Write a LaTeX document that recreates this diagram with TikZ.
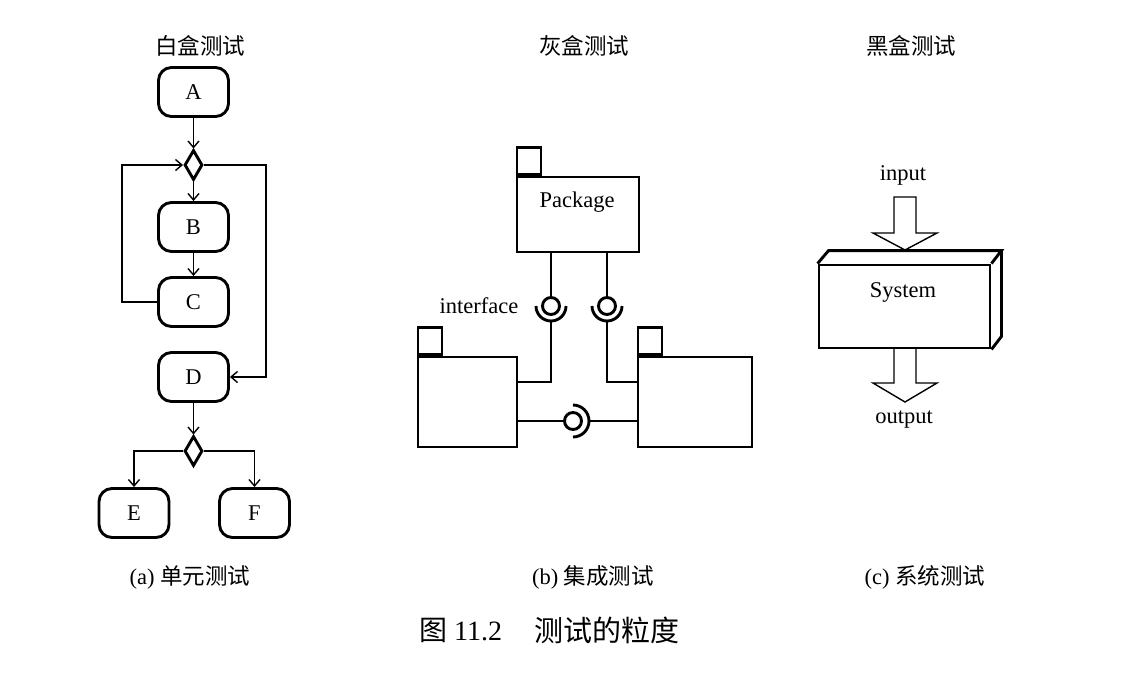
\documentclass[tikz,border=0pt]{standalone}
\usepackage{fontspec}
\setmainfont{Liberation Serif}
\newfontfamily\cjk{Noto Sans CJK SC}
\usetikzlibrary{shapes.geometric,arrows.meta}
\begin{document}
\begin{tikzpicture}[x=1pt,y=-1pt,
  every node/.style={inner sep=0pt},
  thickline/.style={line width=2.9pt},
  conn/.style={line width=1.4pt},
  arr/.style={conn,-{Straight Barb[length=6.5pt,width=11pt]}},
  lbl/.style={font=\fontsize{22.5}{26}\selectfont},
  cjklbl/.style={font=\cjk\fontsize{22.5}{26}\selectfont},
  act/.style={draw,thickline,rounded corners=13pt,minimum width=70pt,minimum height=49pt,lbl},
  dec/.style={draw,thickline,diamond,minimum width=18pt,minimum height=30pt},
  pkgbox/.style={draw,thickline,rectangle},
  iface/.style={draw,thickline,circle,minimum size=17pt},
]
\useasboundingbox (0,0) rectangle (1132,681);

% ---------- (a) white box ----------
\node[cjklbl] (h1) at (200,46) {白盒测试};
\node[act] (A) at (193.5,92) {A};
\node[dec] (d1) at (193.5,165) {};
\node[act] (B) at (193.5,227) {B};
\node[act] (C) at (193.5,302) {C};
\node[act] (D) at (193.5,377) {D};
\node[dec] (d2) at (193.5,451) {};
\node[act] (E) at (134,513) {E};
\node[act] (F) at (254.5,513) {F};
\coordinate (lp) at (122,302);
\coordinate (rp) at (266,165);
\draw[arr] (A) -- (d1);
\draw[arr] (d1) -- (B);
\draw[arr] (B) -- (C);
\draw[arr] (C.west) -- (lp) |- (d1.west);
\draw[arr] (d1.east) -- (rp) |- (D.east);
\draw[arr] (D) -- (d2);
\draw[arr] (d2.west) -| (E.north);
\draw[arr] (d2.east) -| (F.north);
\node[lbl] (capa) at (190,577) {(a) {\cjk 单元测试}};

% ---------- (b) grey box ----------
\node[cjklbl] (h2) at (584,46) {灰盒测试};
\node[pkgbox,minimum width=122pt,minimum height=75pt] (P) at (578,214.5) {};
\node[pkgbox,minimum width=24pt,minimum height=27pt,anchor=south west] (Ptab) at (P.north west) {};
\node[lbl] (Ptxt) at (577,202) {Package};
\node[pkgbox,minimum width=99pt,minimum height=90pt] (L) at (467.5,402) {};
\node[pkgbox,minimum width=24pt,minimum height=27pt,anchor=south west] (Ltab) at (L.north west) {};
\node[pkgbox,minimum width=114pt,minimum height=90pt] (R) at (695,402) {};
\node[pkgbox,minimum width=24pt,minimum height=27pt,anchor=south west] (Rtab) at (R.north west) {};
\node[iface] (i1) at (551,306) {};
\node[iface] (i2) at (607,306) {};
\node[iface] (i3) at (573,421) {};
\draw[thickline] ([xshift=-15pt]i1.center) arc[start angle=180,end angle=360,radius=15pt];
\draw[thickline] ([xshift=-15pt]i2.center) arc[start angle=180,end angle=360,radius=15pt];
\draw[thickline] ([yshift=16pt]i3.center) arc[start angle=90,end angle=-90,radius=16pt];
\draw[conn] (P.south -| i1) -- (i1.north);
\draw[conn] (P.south -| i2) -- (i2.north);
\draw[conn] ([yshift=-15pt]i1.center) |- ([yshift=20pt]L.east);
\draw[conn] ([yshift=-15pt]i2.center) |- ([yshift=20pt]R.west);
\draw[conn] (L.east |- i3) -- (i3.west);
\draw[conn] ([xshift=16pt]i3.center) -- (R.west |- i3);
\node[lbl] (itxt) at (479,306) {interface};
\node[lbl] (capb) at (593,577) {(b) {\cjk 集成测试}};

% ---------- (c) black box ----------
\node[cjklbl] (h3) at (911,46) {黑盒测试};
\node[lbl] (in) at (903,175) {input};
\draw[conn,line join=miter] (894,197) -- (916,197) -- (916,233) -- (937,233) -- (905,250) -- (873,233) -- (894,233) -- cycle;
\node[draw,thickline,minimum width=171pt,minimum height=83pt] (S) at (904.5,306.5) {};
\draw[thickline,line join=miter] (S.north west) -- ([xshift=11pt,yshift=13pt]S.north west) -- ([xshift=10pt,yshift=13pt]S.north east) -- (S.north east);
\draw[thickline,line join=miter] ([xshift=10pt,yshift=13pt]S.north east) -- ([xshift=10pt,yshift=13pt]S.south east) -- (S.south east);
\node[lbl] (stxt) at (903,292) {System};
\draw[conn,line join=miter] (894,348) -- (894,383) -- (873,383) -- (905,402) -- (937,383) -- (916,383) -- (916,348);
\node[lbl] (out) at (904,420) {output};
\node[lbl] (capc) at (925,577) {(c) {\cjk 系统测试}};

% ---------- figure caption ----------
\node[anchor=west,font=\fontsize{28}{30}\selectfont] (fig1) at (419,630) {{\cjk 图} 11.2};
\node[anchor=west,font=\cjk\fontsize{29}{31}\selectfont] (fig2) at (534,630) {测试的粒度};
\end{tikzpicture}
\end{document}
